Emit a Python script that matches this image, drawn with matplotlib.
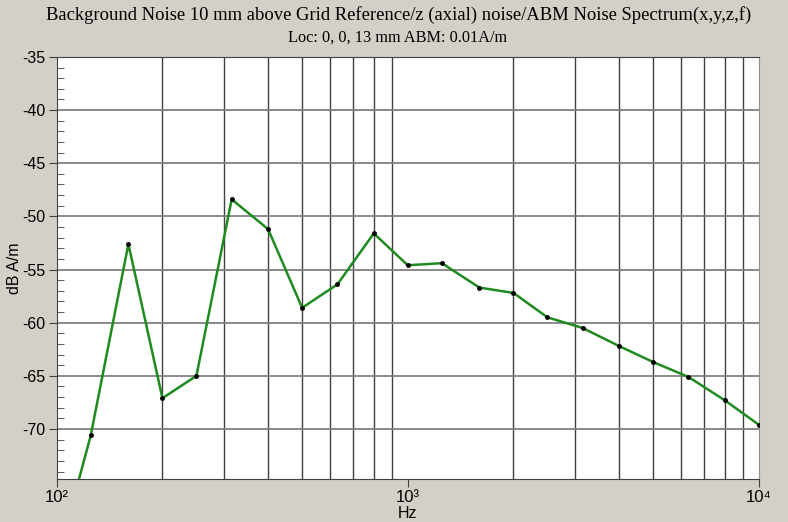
import numpy as np
import matplotlib
matplotlib.use("Agg")
import matplotlib.pyplot as plt
from matplotlib.ticker import FixedLocator, MultipleLocator, NullFormatter

# 1/3 octave band centres (Hz) and noise level (dB A/m)
freq = [100, 125, 160, 200, 250, 315, 400, 500, 630, 800, 1000,
        1250, 1600, 2000, 2500, 3150, 4000, 5000, 6300, 8000, 10000]
level = [-82.5, -70.6, -52.6, -67.1, -65.0, -48.4, -51.2, -58.6, -56.4, -51.6, -54.6,
         -54.4, -56.7, -57.2, -59.5, -60.5, -62.2, -63.7, -65.1, -67.3, -69.6]

bg = "#d4d0c8"
sans = ["Liberation Sans", "DejaVu Sans"]
serif = ["Liberation Serif", "DejaVu Serif"]

fig = plt.figure(figsize=(7.88, 5.22), dpi=100, facecolor=bg)
ax = fig.add_axes([0.072, 0.0824, 0.891, 0.8086])
ax.set_facecolor("white")

ax.plot(freq, level, color="#1f8a1f", lw=1.8, marker="o", ms=2.5,
        mfc="black", mec="black", zorder=3)

ax.set_xscale("log")
ax.set_xlim(100, 10000)
ax.set_ylim(-74.7, -35)

# grid
minor_x = [m * 10**d for d in (2, 3) for m in range(2, 10)]
for x in minor_x:
    ax.axvline(x, color="#404040", lw=1.0, zorder=1)
for y in range(-70, -34, 5):
    ax.axhline(y, color="#808080", lw=1.3, zorder=1)

ax.xaxis.set_major_locator(FixedLocator([100, 1000, 10000]))
ax.xaxis.set_minor_locator(FixedLocator([]))
ax.set_xticklabels(["10²", "10³", "10⁴"], family=sans, fontsize=12)
ax.xaxis.set_minor_formatter(NullFormatter())

ax.yaxis.set_minor_locator(MultipleLocator(1))
ax.set_yticks(range(-70, -34, 5))
ax.set_yticklabels([str(v) for v in range(-70, -34, 5)], family=sans, fontsize=11.5)

ax.tick_params(axis="both", which="major", direction="out", length=6,
               color="#404040", pad=2)
ax.tick_params(axis="y", which="minor", direction="in", length=5, color="#404040")

for side in ("left", "bottom", "top"):
    ax.spines[side].set_color("#404040")
ax.spines["right"].set_color("#909090")

ax.set_xlabel("Hz", family=sans, fontsize=11.5, labelpad=1)
ax.set_ylabel("dB A/m", family=sans, fontsize=11.5, labelpad=0)

fig.text(0.506, 0.971, "Background Noise 10 mm above Grid Reference/z (axial) noise/ABM Noise Spectrum(x,y,z,f)",
         ha="center", va="center", family=serif, fontsize=13.4)
fig.text(0.505, 0.928, "Loc: 0, 0, 13 mm ABM: 0.01A/m",
         ha="center", va="center", family=serif, fontsize=11.7)

fig.savefig("out.png", dpi=100, facecolor=bg)
